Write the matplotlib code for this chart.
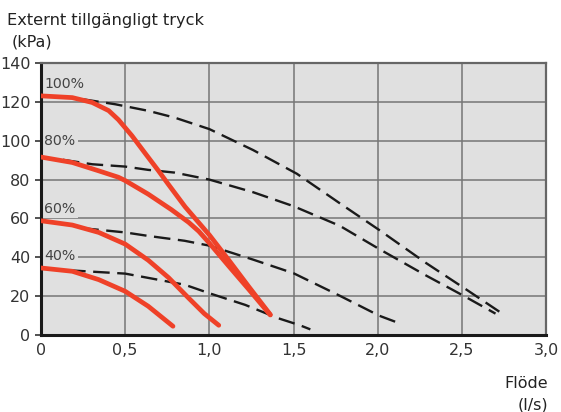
import numpy as np
import matplotlib.pyplot as plt

# Pumpkurvor, röda (heldragna)
red_100_x = [0.0, 0.186, 0.304, 0.402, 0.46, 0.54, 0.619, 0.698, 0.757, 0.856,
             1.0, 1.115, 1.234, 1.362]
red_100_y = [123.1, 122.2, 119.7, 115.5, 110.8, 102.6, 93.5, 84.5, 77.5, 66.0,
             51.5, 38.6, 24.9, 10.5]
red_80_x = [0.0, 0.186, 0.343, 0.46, 0.5, 0.637, 0.775, 0.877, 0.937, 1.0, 1.115, 1.234, 1.362]
red_80_y = [91.6, 88.8, 84.5, 81.2, 79.5, 72.5, 64.5, 58.0, 53.4, 47.3, 35.5, 23.5, 10.3]
red_60_x = [0.0, 0.186, 0.343, 0.5, 0.637, 0.758, 0.877, 0.97, 1.056]
red_60_y = [58.8, 56.6, 52.8, 46.8, 38.5, 29.5, 19.0, 11.0, 5.0]
red_40_x = [0.0, 0.186, 0.343, 0.5, 0.637, 0.784]
red_40_y = [34.5, 32.8, 28.5, 22.5, 14.8, 4.5]

# Streckade kurvor
dash_100_x = [0.245, 0.44, 0.637, 0.794, 1.0, 1.26, 1.52, 1.775, 2.01, 2.29, 2.53, 2.74]
dash_100_y = [121.4, 118.8, 115.4, 111.9, 106.0, 95.2, 83.0, 67.8, 54.0, 36.9, 23.2, 11.0]
dash_80_x = [0.13, 0.304, 0.5, 0.637, 0.794, 1.0, 1.26, 1.5, 1.775, 2.01, 2.29, 2.51, 2.70]
dash_80_y = [90.2, 87.9, 86.7, 85.0, 83.6, 80.0, 73.5, 66.3, 56.2, 44.2, 30.5, 20.2, 11.0]
dash_60_x = [0.245, 0.5, 0.637, 0.853, 1.0, 1.26, 1.5, 1.775, 2.01, 2.13]
dash_60_y = [55.0, 52.8, 51.0, 48.5, 46.0, 38.8, 31.8, 20.2, 9.9, 6.0]
dash_40_x = [0.167, 0.5, 0.637, 0.853, 1.0, 1.213, 1.41, 1.535, 1.6]
dash_40_y = [33.3, 31.6, 29.4, 25.9, 21.5, 15.5, 8.6, 5.1, 2.9]

labels = ['100%', '80%', '60%', '40%']
label_y = [129, 100, 65, 40.5]

xticks = [0, 0.5, 1.0, 1.5, 2.0, 2.5, 3.0]
xticklabels = ['0', '0,5', '1,0', '1,5', '2,0', '2,5', '3,0']
yticks = [0, 20, 40, 60, 80, 100, 120, 140]

red = '#ef4128'
bg = '#e0e0e0'

fig = plt.figure(figsize=(5.61, 4.12), dpi=100)
ax = fig.add_axes([0.0731, 0.1869, 0.9002, 0.6601])
ax.set_facecolor(bg)

ax.set_xlim(0, 3.0)
ax.set_ylim(0, 140)
ax.set_xticks(xticks)
ax.set_xticklabels(xticklabels)
ax.set_yticks(yticks)
ax.grid(True, color='#767676', linewidth=1.1, zorder=1)
ax.set_axisbelow(True)

for xs, ys in [(dash_100_x, dash_100_y), (dash_80_x, dash_80_y),
               (dash_60_x, dash_60_y), (dash_40_x, dash_40_y)]:
    ax.plot(xs, ys, color='#1a1a1a', linewidth=1.7, dashes=(7, 3.2), zorder=3)

for xs, ys in [(red_100_x, red_100_y), (red_80_x, red_80_y),
               (red_60_x, red_60_y), (red_40_x, red_40_y)]:
    ax.plot(xs, ys, color=red, linewidth=3.4, solid_capstyle='round',
            solid_joinstyle='round', zorder=4)

for lab, ly in zip(labels, label_y):
    ax.text(0.02, ly, lab, fontsize=10.2, color='#444444', va='center', ha='left',
            bbox=dict(facecolor=bg, edgecolor='none', pad=1.5), zorder=2)

for side in ['left', 'bottom']:
    ax.spines[side].set_color('#1a1a1a')
    ax.spines[side].set_linewidth(2.2)
for side in ['top', 'right']:
    ax.spines[side].set_color('#666666')
    ax.spines[side].set_linewidth(1.6)

ax.tick_params(axis='both', labelsize=11.5, colors='#333333', length=4, width=1.2)
ax.tick_params(axis='x', length=0, pad=6)

fig.text(7 / 561, 1 - 20 / 412, 'Externt tillgängligt tryck', fontsize=11.7, color='#222222',
         ha='left', va='center')
fig.text(12 / 561, 1 - 42 / 412, '(kPa)', fontsize=11.5, color='#222222', ha='left', va='center')
fig.text(548 / 561, 1 - 383 / 412, 'Flöde', fontsize=11.5, color='#222222', ha='right', va='center')
fig.text(548 / 561, 1 - 405 / 412, '(l/s)', fontsize=11.5, color='#222222', ha='right', va='center')

fig.savefig('out.png', dpi=100)
